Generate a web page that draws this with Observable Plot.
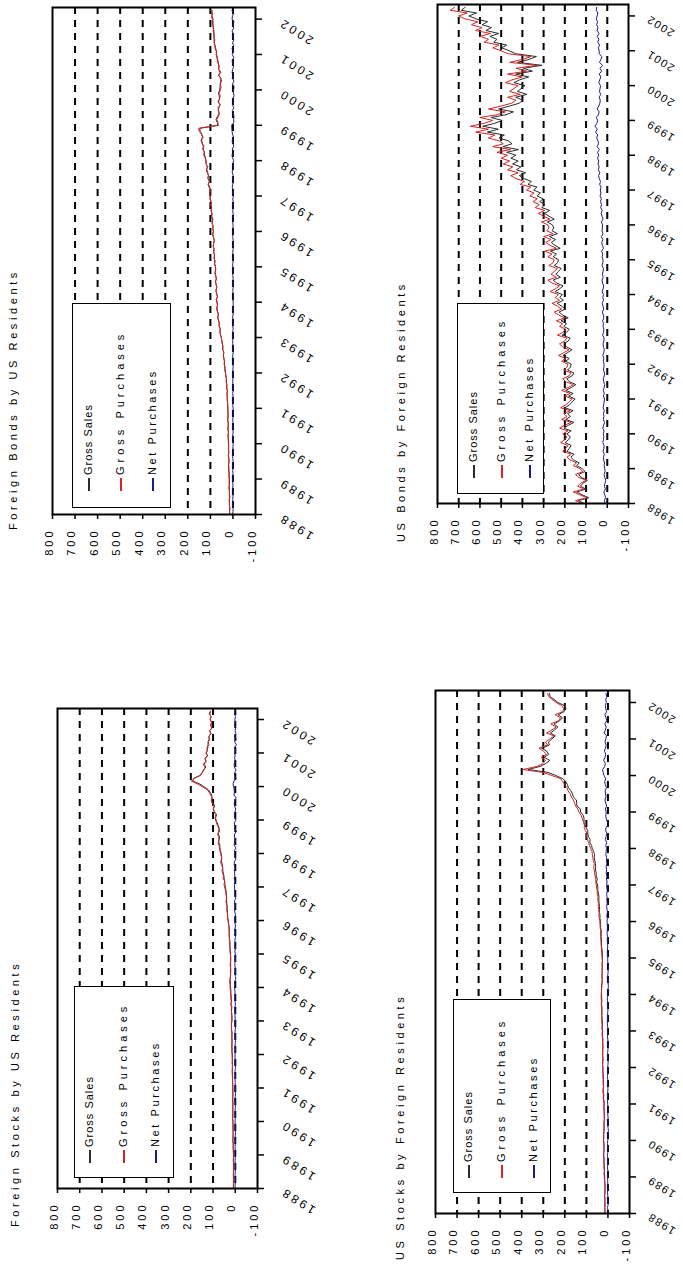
<!DOCTYPE html>
<html>
<head>
<meta charset="utf-8">
<script src="https://cdn.jsdelivr.net/npm/d3@7"></script>
<script src="https://cdn.jsdelivr.net/npm/@observablehq/plot@0.6"></script>
<style>
  html, body { margin: 0; padding: 0; background: #fff; }
  body { width: 683px; height: 1266px; position: relative; overflow: hidden;
         font-family: Arial, "Liberation Sans", sans-serif; color: #000; }
  .panel { position: absolute; }
  .panel svg text { letter-spacing: 3px; }
  .panel.narrow svg text.yr { letter-spacing: 1.5px; }
  .vt { position: absolute; white-space: nowrap; transform-origin: 0 0;
        transform: rotate(-90deg); color: #000; }
  .lbox { position: absolute; border: 1.5px solid #000; background: #fff; box-sizing: border-box; }
</style>
</head>
<body>
<script>
// ---------- data (monthly, Jan 1988 .. Apr 2002, billions of US$) ----------
const startMonth = "1988-01";
const endMonth = "2002-05";
const yearTicks = [1988,1989,1990,1991,1992,1993,1994,1995,1996,1997,1998,1999,2000,2001,2002];
const valueTicks = [800,700,600,500,400,300,200,100,0,-100];
const gridValues = [700,600,500,400,300,200,100,0];
const seriesNames = ["Gross Sales", "Gross Purchases", "Net Purchases"];
const panelTitles = ["Foreign Bonds by US Residents", "US Bonds by Foreign Residents",
                     "Foreign Stocks by US Residents", "US Stocks by Foreign Residents"];

// Foreign Bonds by US Residents
const foreignBondsPurchases = [
 14,15,13,16,15,17,14,16,15,18,16,17,
 16,18,17,19,18,20,17,19,21,18,20,19,
 19,21,20,22,19,23,21,20,24,22,21,23,
 22,24,23,26,25,27,24,28,27,30,29,32,
 33,36,35,39,37,41,43,40,46,44,48,50,
 52,55,58,56,62,60,65,68,64,70,72,68,
 70,74,68,72,76,71,75,78,73,77,80,76,
 78,82,79,84,81,86,83,88,85,82,87,90,
 86,90,88,93,89,95,92,97,94,99,96,102,
 100,104,98,106,110,103,112,108,115,118,112,120,
 118,124,130,126,135,128,138,142,132,140,150,152,
 70,66,72,64,60,66,62,58,64,60,56,62,
 55,52,58,50,56,62,58,64,60,66,70,68,
 75,72,80,78,84,80,86,83,88,85,90,87,
 92,95,90,98];
const foreignBondsSales = [
 13,15,14,15,16,16,14,15,16,17,16,16,
 16,17,17,18,19,19,18,18,20,19,19,19,
 20,20,21,21,20,22,21,21,23,22,22,22,
 23,23,24,25,25,26,25,27,27,29,29,31,
 33,35,36,38,38,40,42,41,45,45,47,49,
 51,56,57,57,61,61,64,67,65,69,71,69,
 71,73,69,73,75,72,74,77,74,76,79,77,
 77,81,80,83,82,85,84,87,86,83,86,89,
 87,89,89,92,90,94,93,96,95,98,97,101,
 102,102,99,103,109,105,110,109,112,116,114,119,
 121,122,126,128,132,132,136,139,135,138,146,147,
 64,70,75,69,62,63,66,56,67,59,61,64,
 58,57,56,54,53,64,54,63,63,64,67,72,
 72,74,76,81,82,84,83,85,84,88,88,92,
 88,93,93,93];
const foreignBondsNet = [
 1,0,-1,1,-1,1,0,1,-1,1,0,1,
 0,1,0,1,-1,1,-1,1,1,-1,1,0,
 -1,1,-1,1,-1,1,0,-1,1,0,-1,1,
 -1,1,-1,1,0,1,-1,1,0,1,0,1,
 0,1,-1,1,-1,1,1,-1,1,-1,1,1,
 1,-1,1,-1,1,-1,1,1,-1,1,1,-1,
 -1,1,-1,-1,1,-1,1,1,-1,1,1,-1,
 1,1,-1,1,-1,1,-1,1,-1,-1,1,1,
 -1,1,-1,1,-1,1,-1,1,-1,1,-1,1,
 -2,2,-1,3,1,-2,2,-1,3,2,-2,1,
 -3,2,4,-2,3,-4,2,3,-3,2,4,5,
 6,-4,-3,-5,-2,3,-4,2,-3,1,-5,-2,
 -3,-5,2,-4,3,-2,4,1,-3,2,3,-4,
 3,-2,4,-3,2,-4,3,-2,4,-3,2,-5,
 4,2,-3,5];

// US Bonds by Foreign Residents
const usBondsPurchases = [
 120,150,95,130,160,110,140,125,100,135,150,115,
 130,160,145,175,190,170,210,195,185,220,200,190,
 210,185,225,200,170,215,190,205,175,220,195,180,
 165,200,175,215,185,160,195,210,180,170,205,190,
 185,215,195,230,205,180,210,225,200,190,235,210,
 195,225,210,240,200,230,250,215,235,260,225,245,
 230,270,245,225,260,280,240,265,250,235,275,255,
 250,280,260,295,240,270,290,265,300,255,285,275,
 280,310,270,300,325,295,340,320,350,330,365,345,
 380,360,410,390,430,455,420,470,445,490,460,500,
 470,520,455,540,490,510,560,530,620,560,645,580,
 540,600,520,480,560,500,450,430,470,410,460,440,
 420,480,450,400,470,380,430,330,460,400,360,470,
 500,540,510,580,560,600,550,620,590,640,610,670,
 700,660,740,720];
const usBondsSales = [
 110,136,87,118,144,101,127,114,93,123,135,105,
 118,145,132,158,172,156,190,179,170,199,182,174,
 191,170,204,183,157,196,174,187,161,200,178,165,
 152,182,161,196,170,148,178,191,166,157,187,174,
 170,196,179,209,188,166,192,205,184,175,213,192,
 179,205,192,218,184,211,227,198,215,236,207,224,
 212,246,225,208,238,255,221,242,230,217,250,234,
 230,255,239,268,222,247,264,244,272,235,260,252,
 258,282,250,275,296,271,309,293,318,302,331,315,
 347,331,374,358,392,414,385,428,407,446,420,454,
 430,474,418,492,449,466,510,485,565,513,587,531,
 495,548,478,442,512,460,415,397,432,379,423,406,
 388,440,414,370,432,353,396,308,423,370,334,432,
 462,498,474,535,520,553,511,572,546,590,564,618,
 652,616,688,670];
const usBondsNet = [
 10,14,8,12,16,9,13,11,7,12,15,10,
 12,15,13,17,18,14,20,16,15,21,18,16,
 19,15,21,17,13,19,16,18,14,20,17,15,
 13,18,14,19,15,12,17,19,14,13,18,16,
 15,19,16,21,17,14,18,20,16,15,22,18,
 16,20,18,22,16,19,23,17,20,24,18,21,
 18,24,20,17,22,25,19,23,20,18,25,21,
 20,25,21,27,18,23,26,21,28,20,25,23,
 22,28,20,25,29,24,31,27,32,28,34,30,
 33,29,36,32,38,41,35,42,38,44,40,46,
 40,46,37,48,41,44,50,45,55,47,58,49,
 45,52,42,38,48,40,35,33,38,31,37,34,
 32,40,36,30,38,27,34,22,37,30,26,38,
 38,42,36,45,40,47,39,48,44,50,46,52,
 48,44,52,50];

// Foreign Stocks by US Residents
const foreignStocksPurchases = [
 8,9,8,7,8,9,8,8,7,8,9,8,
 8,9,9,10,9,10,11,10,9,10,11,10,
 11,12,10,11,12,11,10,11,12,11,10,11,
 11,12,12,13,12,13,14,13,12,14,13,14,
 14,15,14,16,15,14,16,15,16,17,16,18,
 16,15,17,16,18,17,19,18,20,19,21,22,
 24,23,26,22,21,22,20,21,23,22,20,21,
 22,24,23,25,24,27,26,28,27,29,28,31,
 33,35,34,37,39,36,40,42,38,41,43,45,
 48,51,46,55,53,57,60,56,63,66,60,63,
 66,70,68,74,77,72,75,80,70,74,80,85,
 86,90,88,95,98,96,104,108,102,112,118,128,
 150,172,198,182,160,150,140,136,145,130,138,126,
 132,124,128,118,124,114,120,108,116,104,112,106,
 114,108,118,112];
const foreignStocksSales = [
 8,8,8,8,8,8,8,8,8,8,8,8,
 8,8,9,9,9,11,10,10,10,10,10,10,
 10,12,11,11,11,11,11,11,11,11,11,11,
 11,11,12,12,13,13,13,13,13,13,13,13,
 13,15,15,15,15,15,15,15,15,17,17,17,
 15,15,15,17,17,15,20,17,18,19,20,20,
 21,22,22,24,22,21,22,21,21,21,21,21,
 22,22,24,24,24,25,27,27,27,27,29,30,
 31,34,35,35,36,37,38,39,40,40,41,42,
 45,47,48,50,51,54,56,57,58,62,63,61,
 64,66,71,69,74,74,71,77,75,72,77,81,
 89,88,84,94,100,93,99,106,106,106,114,123,
 142,162,192,186,157,148,143,132,140,132,135,125,
 130,127,124,123,121,118,118,111,115,106,109,107,
 112,109,115,111];
const foreignStocksNet = [
 0,1,0,-1,0,1,0,0,-1,0,1,0,
 0,1,0,1,0,-1,1,0,-1,0,1,0,
 1,0,-1,0,1,0,-1,0,1,0,-1,0,
 0,1,0,1,-1,0,1,0,-1,1,0,1,
 1,0,-1,1,0,-1,1,0,1,0,-1,1,
 1,0,2,-1,1,2,-1,1,2,0,1,2,
 3,1,4,-2,-1,1,-2,0,2,1,-1,0,
 0,2,-1,1,0,2,-1,1,0,2,-1,1,
 2,1,-1,2,3,-1,2,3,-2,1,2,3,
 3,4,-2,5,2,3,4,-1,5,4,-3,2,
 2,4,-3,5,3,-2,4,3,-5,2,3,4,
 -3,2,4,1,-2,3,5,2,-4,6,4,5,
 8,10,6,-4,3,2,-3,4,5,-2,3,1,
 2,-3,4,-5,3,-4,2,-3,1,-2,3,-1,
 2,-1,3,1];

// US Stocks by Foreign Residents
const usStocksPurchases = [
 15,14,16,13,15,14,16,15,14,13,15,16,
 17,18,16,19,18,20,19,21,20,18,19,20,
 21,19,20,18,17,19,18,16,17,18,17,19,
 18,20,22,21,23,22,21,23,22,24,23,25,
 24,25,23,24,26,25,24,23,25,24,26,27,
 26,28,27,29,28,30,29,28,30,31,30,32,
 31,30,29,28,27,26,28,27,26,25,27,26,
 27,28,29,30,31,32,33,34,35,34,36,37,
 38,40,42,41,43,45,44,47,46,49,50,52,
 54,57,56,60,62,64,66,63,68,70,72,74,
 80,86,90,95,100,98,105,110,108,115,120,125,
 135,140,150,155,160,170,175,185,190,200,210,220,
 260,300,395,330,300,290,310,285,300,320,280,290,
 270,250,285,260,240,265,230,220,245,210,205,215,
 240,260,275,280];
const usStocksSales = [
 14,14,14,14,14,14,15,13,14,14,14,15,
 15,17,16,17,17,18,18,19,19,18,18,18,
 20,20,20,20,18,18,18,17,17,17,18,19,
 17,18,21,19,22,22,20,21,21,22,22,23,
 23,25,24,23,24,24,24,24,24,24,24,26,
 24,27,25,26,27,28,28,28,28,30,28,29,
 30,30,30,30,27,27,27,27,27,27,27,25,
 26,26,26,28,30,30,30,32,31,31,34,34,
 34,37,37,39,39,39,41,42,42,43,47,47,
 48,53,49,55,54,58,57,58,61,64,62,66,
 73,76,84,83,91,93,94,102,111,111,111,115,
 127,128,144,145,146,161,164,172,183,188,195,210,
 242,278,370,315,288,270,296,275,284,308,272,276,
 260,244,267,248,232,250,225,211,231,204,195,203,
 232,250,269,271];
const usStocksNet = [
 1,0,2,-1,1,0,1,2,0,-1,1,1,
 2,1,0,2,1,2,1,2,1,0,1,2,
 1,-1,0,-2,-1,1,0,-1,0,1,-1,0,
 1,2,1,2,1,0,1,2,1,2,1,2,
 1,0,-1,1,2,1,0,-1,1,0,2,1,
 2,1,2,3,1,2,1,0,2,1,2,3,
 1,0,-1,-2,0,-1,1,0,-1,-2,0,1,
 1,2,3,2,1,2,3,2,4,3,2,3,
 4,3,5,2,4,6,3,5,4,6,3,5,
 6,4,7,5,8,6,9,5,7,6,10,8,
 7,10,6,12,9,5,11,8,-3,4,9,10,
 8,12,6,10,14,9,11,13,7,12,15,10,
 18,22,25,15,12,20,14,10,16,12,8,14,
 10,6,18,12,8,15,5,9,14,6,10,12,
 8,10,6,9];

// ---------- layout / styles ----------
const colors = { sales: "#2b2b2b", purchases: "#d42424", net: "#1b1b8f" };
const fontStack = "Arial, 'Liberation Sans', sans-serif";

const panels = [
  { title: panelTitles[0], buy: foreignBondsPurchases, sell: foreignBondsSales, net: foreignBondsNet,
    left: 0, top: 0, width: 340, height: 600, ml: 52, mr: 85, mt: 7, mb: 86,
    yearDx: 24, yearFont: 12, narrow: false,
    titleX: 13, titleY: 530, box: [72, 303, 99, 205], legX: [88, 120, 152], legY: 491 },
  { title: panelTitles[1], buy: usBondsPurchases, sell: usBondsSales, net: usBondsNet,
    left: 340, top: 0, width: 343, height: 600, ml: 97, mr: 55, mt: 4, mb: 97,
    yearDx: 19, yearFont: 11, narrow: true,
    titleX: 401, titleY: 542, box: [457, 303, 87, 191], legX: [473, 501, 529], legY: 478 },
  { title: panelTitles[2], buy: foreignStocksPurchases, sell: foreignStocksSales, net: foreignStocksNet,
    left: 0, top: 640, width: 340, height: 626, ml: 57, mr: 83, mt: 68, mb: 78,
    yearDx: 24, yearFont: 12, narrow: false,
    titleX: 15, titleY: 1227, box: [74, 986, 100, 192], legX: [89, 123, 155], legY: 1163 },
  { title: panelTitles[3], buy: usStocksPurchases, sell: usStocksSales, net: usStocksNet,
    left: 340, top: 640, width: 343, height: 626, ml: 95, mr: 54, mt: 50, mb: 53,
    yearDx: 19, yearFont: 11, narrow: true,
    titleX: 400, titleY: 1260, box: [453, 999, 98, 194], legX: [468, 501, 533], legY: 1178 }
];

const months = d3.utcMonth.range(new Date(startMonth + "-01T00:00Z"), new Date(endMonth + "-01T00:00Z"));
const yearDates = yearTicks.map(y => new Date(Date.UTC(y, 0, 1)));
const timeDomain = [months[0], new Date(endMonth + "-01T00:00Z")];

function vtext(cx, y0, html, fontSize, spacing) {
  const lh = Math.round(fontSize * 1.2);
  const d = document.createElement("div");
  d.className = "vt";
  d.style.left = (cx - lh / 2) + "px";
  d.style.top = y0 + "px";
  d.style.height = lh + "px";
  d.style.lineHeight = lh + "px";
  d.style.fontSize = fontSize + "px";
  d.style.letterSpacing = spacing + "px";
  d.innerHTML = html;
  document.body.appendChild(d);
}

for (const p of panels) {
  const rows = months.map((date, i) => ({ date, buy: p.buy[i], sell: p.sell[i], net: p.net[i] }));
  const chart = Plot.plot({
    width: p.width, height: p.height,
    marginLeft: p.ml, marginRight: p.mr, marginTop: p.mt, marginBottom: p.mb,
    style: { fontFamily: fontStack, fontSize: "11px", background: "transparent", overflow: "visible" },
    x: { domain: [-100, 800], reverse: true },
    y: { type: "utc", domain: timeDomain },
    marks: [
      Plot.gridX(gridValues, { stroke: "#000", strokeOpacity: 1, strokeWidth: 2, strokeDasharray: "7,6" }),
      Plot.line(rows, { x: "sell", y: "date", stroke: colors.sales, strokeWidth: 1 }),
      Plot.line(rows, { x: "buy", y: "date", stroke: colors.purchases, strokeWidth: 1 }),
      Plot.line(rows, { x: "net", y: "date", stroke: colors.net, strokeWidth: 1 }),
      Plot.frame({ stroke: "#000", strokeWidth: 2 }),
      Plot.axisX(valueTicks, { anchor: "bottom", tickSize: 5, tickFormat: () => "", label: null, strokeWidth: 1.5 }),
      Plot.axisY(yearDates, { anchor: "right", tickSize: 6, tickFormat: () => "", label: null, strokeWidth: 1.5 }),
      Plot.text(valueTicks, { x: d => d, text: d => String(d), frameAnchor: "bottom", dy: 14,
                              rotate: -90, textAnchor: "end", fontSize: 11, fill: "#000" }),
      Plot.text(yearDates, { y: d => d, text: d => String(d.getUTCFullYear()), frameAnchor: "right",
                             dx: p.yearDx, dy: 2, rotate: 212, textAnchor: "end",
                             fontSize: p.yearFont, fill: "#000", className: "yr" })
    ]
  });
  const wrap = document.createElement("div");
  wrap.className = "panel" + (p.narrow ? " narrow" : "");
  wrap.style.left = p.left + "px";
  wrap.style.top = p.top + "px";
  wrap.appendChild(chart);
  document.body.appendChild(wrap);
  if (p.narrow) {
    // tighter year labels so they stay inside the page
    const texts = chart.querySelectorAll("text");
    texts.forEach(t => { if (/^(19|20)\d\d$/.test(t.textContent)) t.style.letterSpacing = "1.5px"; });
  }

  // title (rotated, reads bottom to top)
  vtext(p.titleX, p.titleY, p.title, 11, 3.6);

  // legend box
  const box = document.createElement("div");
  box.className = "lbox";
  box.style.left = p.box[0] + "px";
  box.style.top = p.box[1] + "px";
  box.style.width = p.box[2] + "px";
  box.style.height = p.box[3] + "px";
  document.body.appendChild(box);
  const legColors = [colors.sales, colors.purchases, colors.net];
  const legSpacing = [1, 4, 2.6];
  seriesNames.forEach((name, k) => {
    const swatch = `<span style="display:inline-block;width:13px;height:1.5px;background:${legColors[k]};vertical-align:middle;margin-right:3px;letter-spacing:0"></span>`;
    vtext(p.legX[k], p.legY, swatch + name, 11, legSpacing[k]);
  });
}
</script>
</body>
</html>
